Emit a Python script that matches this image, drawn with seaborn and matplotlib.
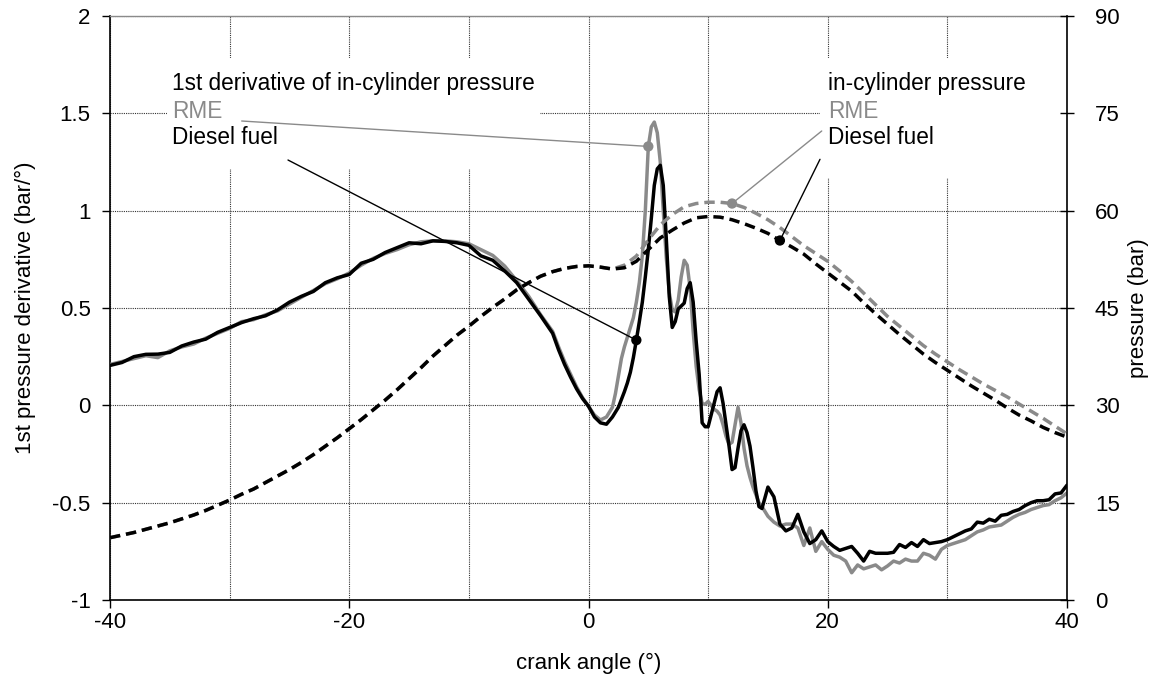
import numpy as np
import pandas as pd
import matplotlib
matplotlib.use("Agg")
import matplotlib.pyplot as plt
from matplotlib.patches import Rectangle
from matplotlib.ticker import FixedLocator
import seaborn as sns

# ---------------------------------------------------------------- data
# crank angle grid for the pressure-derivative traces (finer around combustion)
crank_deriv = np.concatenate([
    np.arange(-40.0, -2.9, 1.0),
    np.arange(-2.5, 2.01, 0.5),
    np.arange(2.25, 14.26, 0.25),
    np.arange(14.5, 40.01, 0.5),
])

# 1st derivative of in-cylinder pressure, bar/deg
dp_diesel = [
    0.205, 0.22, 0.25, 0.262, 0.263, 0.272, 0.305, 0.325, 0.34, 0.375,
    0.40, 0.425, 0.445, 0.46, 0.49, 0.53, 0.56, 0.585, 0.63, 0.655,
    0.672, 0.73, 0.75, 0.785, 0.81, 0.835, 0.83, 0.845, 0.842, 0.835,
    0.822, 0.768, 0.745, 0.69, 0.63, 0.545, 0.46, 0.37,
    0.285, 0.21, 0.145, 0.085, 0.035, -0.005, -0.06, -0.09, -0.097, -0.06,
    -0.035, -0.01, 0.03, 0.07, 0.115, 0.17, 0.245, 0.335, 0.43, 0.53,
    0.66, 0.80, 0.96, 1.13, 1.215, 1.233, 1.13, 0.86, 0.56, 0.40,
    0.43, 0.495, 0.51, 0.525, 0.60, 0.63, 0.53, 0.33, 0.16, -0.09,
    -0.11, -0.11, -0.05, 0.01, 0.07, 0.09, 0.01, -0.10, -0.21, -0.33,
    -0.32, -0.22, -0.13, -0.10, -0.14, -0.21, -0.32, -0.44, -0.52,
    -0.53, -0.42, -0.47, -0.61, -0.645, -0.63, -0.56, -0.65, -0.71, -0.69,
    -0.645, -0.70, -0.725, -0.745, -0.735, -0.725, -0.76, -0.80, -0.75, -0.76,
    -0.76, -0.76, -0.755, -0.715, -0.73, -0.705, -0.725, -0.69, -0.71, -0.705,
    -0.70, -0.69, -0.675, -0.66, -0.645, -0.635, -0.60, -0.605, -0.585, -0.595,
    -0.565, -0.56, -0.545, -0.535, -0.515, -0.50, -0.49, -0.49, -0.485, -0.455,
    -0.45, -0.41,
]
dp_rme = [
    0.21, 0.225, 0.24, 0.255, 0.245, 0.28, 0.30, 0.315, 0.345, 0.37,
    0.395, 0.43, 0.44, 0.465, 0.485, 0.52, 0.555, 0.59, 0.625, 0.65,
    0.68, 0.72, 0.755, 0.78, 0.80, 0.825, 0.84, 0.845, 0.845, 0.84,
    0.83, 0.80, 0.77, 0.715, 0.64, 0.56, 0.465, 0.38,
    0.30, 0.225, 0.16, 0.095, 0.04, -0.005, -0.05, -0.075, -0.06, -0.01,
    0.06, 0.15, 0.24, 0.30, 0.35, 0.40, 0.45, 0.53, 0.63, 0.77,
    1.0, 1.33, 1.43, 1.455, 1.40, 1.25, 1.00, 0.76, 0.58, 0.49,
    0.48, 0.54, 0.66, 0.745, 0.72, 0.60, 0.38, 0.20, 0.08, 0.01,
    0.005, 0.02, 0.00, -0.02, -0.03, -0.05, -0.10, -0.16, -0.20, -0.19,
    -0.10, -0.01, -0.09, -0.22, -0.31, -0.37, -0.42, -0.46, -0.50,
    -0.52, -0.57, -0.60, -0.62, -0.61, -0.61, -0.63, -0.72, -0.63, -0.75,
    -0.70, -0.74, -0.77, -0.78, -0.80, -0.86, -0.82, -0.84, -0.83, -0.82,
    -0.845, -0.825, -0.80, -0.81, -0.79, -0.80, -0.80, -0.76, -0.77, -0.79,
    -0.74, -0.72, -0.71, -0.70, -0.69, -0.67, -0.65, -0.64, -0.625, -0.62,
    -0.615, -0.595, -0.575, -0.56, -0.55, -0.535, -0.525, -0.515, -0.51, -0.49,
    -0.475, -0.45,
]

# in-cylinder pressure, bar
crank_p = np.arange(-40, 41, 1)
p_diesel = [
    9.6, 10.0, 10.4, 10.9, 11.4, 11.9, 12.5, 13.1, 13.8, 14.6,
    15.4, 16.3, 17.1, 18.1, 19.1, 20.1, 21.2, 22.4, 23.7, 25.0,
    26.4, 27.8, 29.3, 30.8, 32.4, 34.1, 35.8, 37.6, 39.2, 40.8,
    42.2, 43.7, 45.1, 46.4, 47.8, 48.9, 49.9, 50.6, 51.1, 51.4,
    51.5, 51.3, 51.0, 51.2, 52.2, 54.0, 55.8, 57.0, 58.1, 58.9,
    59.1, 59.0, 58.6, 58.0, 57.3, 56.5, 55.4, 54.4, 53.3, 51.8,
    50.4, 49.0, 47.6, 45.8, 44.1, 42.5, 40.9, 39.4, 37.9, 36.6,
    35.4, 34.2, 33.0, 31.9, 30.8, 29.6, 28.5, 27.6, 26.6, 25.8,
    25.1,
]
p_rme = [
    9.6, 10.0, 10.4, 10.9, 11.4, 11.9, 12.5, 13.1, 13.8, 14.6,
    15.4, 16.3, 17.1, 18.1, 19.1, 20.1, 21.2, 22.4, 23.7, 25.0,
    26.4, 27.8, 29.3, 30.8, 32.4, 34.1, 35.8, 37.6, 39.2, 40.8,
    42.2, 43.7, 45.1, 46.4, 47.8, 48.9, 49.9, 50.6, 51.1, 51.4,
    51.5, 51.3, 51.0, 51.6, 53.0, 55.5, 57.8, 59.4, 60.6, 61.1,
    61.3, 61.3, 61.1, 60.5, 59.6, 58.6, 57.4, 56.0, 54.6, 53.4,
    52.2, 50.7, 49.1, 47.3, 45.5, 43.7, 42.2, 40.7, 39.2, 37.9,
    36.7, 35.5, 34.4, 33.3, 32.3, 31.3, 30.2, 29.1, 28.0, 26.8,
    25.6,
]

# crank angles where the callout leaders meet each curve
mark_dp_rme, mark_dp_diesel = 5.0, 4.0
mark_p_rme, mark_p_diesel = 12, 16

x_ticks = [-40, -20, 0, 20, 40]
x_grid_minor = [-30, -10, 10, 30]
y_ticks = [-1, -0.5, 0, 0.5, 1, 1.5, 2]
y_labels = ["-1", "-0.5", "0", "0.5", "1", "1.5", "2"]
p_ticks = [0, 15, 30, 45, 60, 75, 90]

# ---------------------------------------------------------------- style
GREY = "#8a8a8a"
BLACK = "#000000"
FS = 16
FS_NOTE = 16.3
LW = 2.5

sns.set_theme(style="white")
plt.rcParams["font.family"] = ["Liberation Sans", "DejaVu Sans"]
plt.rcParams["axes.unicode_minus"] = False

fig = plt.figure(figsize=(11.49, 6.86), dpi=100)
ax = fig.add_axes([110 / 1149, 86 / 686, 957 / 1149, 584 / 686])
ax2 = ax.twinx()

deriv = pd.DataFrame({"crank": crank_deriv, "RME": dp_rme, "Diesel": dp_diesel})
press = pd.DataFrame({"crank": crank_p, "RME": p_rme, "Diesel": p_diesel})

# derivative traces (left axis)
sns.lineplot(data=deriv, x="crank", y="RME", ax=ax, color=GREY, lw=LW,
             estimator=None, sort=False, legend=False, zorder=3)
sns.lineplot(data=deriv, x="crank", y="Diesel", ax=ax, color=BLACK, lw=LW,
             estimator=None, sort=False, legend=False, zorder=4)

# pressure traces (right axis)
dash = (3.0, 1.7)
sns.lineplot(data=press, x="crank", y="RME", ax=ax2, color=GREY, lw=LW,
             estimator=None, sort=False, legend=False, dashes=False, zorder=3)
sns.lineplot(data=press, x="crank", y="Diesel", ax=ax2, color=BLACK, lw=LW,
             estimator=None, sort=False, legend=False, dashes=False, zorder=4)
for ln in ax2.get_lines():
    ln.set_dashes(dash)

# axes limits, ticks, grid
ax.set_xlim(-40, 40)
ax.set_ylim(-1, 2)
ax2.set_ylim(0, 90)
ax.set_xticks(x_ticks)
ax.set_xticklabels([str(v) for v in x_ticks])
ax.xaxis.set_minor_locator(FixedLocator(x_grid_minor))
ax.set_yticks(y_ticks)
ax.set_yticklabels(y_labels)
ax2.set_yticks(p_ticks)
ax2.set_yticklabels([str(v) for v in p_ticks])

grid_kw = dict(linestyle=(0, (1, 1)), color="#333333", lw=0.8)
ax.grid(True, which="major", axis="both", **grid_kw)
ax.grid(True, which="minor", axis="x", **grid_kw)
ax.set_axisbelow(True)

ax.tick_params(which="minor", length=0)
ax.tick_params(axis="x", which="major", direction="out", length=6, width=1,
               color=BLACK, labelsize=FS, pad=3, labelcolor=BLACK, bottom=True)
ax.tick_params(axis="y", which="major", direction="out", length=6, width=1,
               color=BLACK, labelsize=FS, pad=8, labelcolor=BLACK, left=True)
ax2.tick_params(axis="y", direction="inout", length=10, width=1, color=BLACK,
                labelsize=FS, pad=15, labelcolor=BLACK, right=True)

for side in ("left", "bottom"):
    ax.spines[side].set_color(BLACK)
    ax.spines[side].set_linewidth(1.2)
ax.spines["top"].set_color(GREY)
ax.spines["top"].set_linewidth(1.0)
ax.spines["right"].set_visible(False)
for side in ("left", "top", "bottom"):
    ax2.spines[side].set_visible(False)
ax2.spines["right"].set_color(BLACK)
ax2.spines["right"].set_linewidth(1.2)

ax.set_xlabel("crank angle (°)", fontsize=FS, color=BLACK, labelpad=14)
ax.set_ylabel("1st pressure derivative (bar/°)", fontsize=FS, color=BLACK, labelpad=12)
ax2.set_ylabel("pressure (bar)", fontsize=FS, color=BLACK, labelpad=6)

# ---------------------------------------------------------------- callouts
# white panels behind the two text blocks
ax.add_patch(Rectangle((0.0596, 0.7380), 0.3898, 0.1900, transform=ax.transAxes,
                       facecolor="white", edgecolor="none", zorder=2))
ax.add_patch(Rectangle((0.7419, 0.7226), 0.2581, 0.2054, transform=ax.transAxes,
                       facecolor="white", edgecolor="none", zorder=2))

rows_y = [0.8836, 0.8373, 0.7911]
left_x, right_x = 0.0648, 0.7503
for x0, title in ((left_x, "1st derivative of in-cylinder pressure"),
                  (right_x, "in-cylinder pressure")):
    ax.text(x0, rows_y[0], title, transform=ax.transAxes, fontsize=FS_NOTE,
            color=BLACK, va="center", ha="left", zorder=6)
    ax.text(x0, rows_y[1], "RME", transform=ax.transAxes, fontsize=FS_NOTE,
            color=GREY, va="center", ha="left", zorder=6)
    ax.text(x0, rows_y[2], "Diesel fuel", transform=ax.transAxes, fontsize=FS_NOTE,
            color=BLACK, va="center", ha="left", zorder=6)


def value_at(xs, ys, x0):
    idx = int(np.argmin(np.abs(np.asarray(xs, dtype=float) - x0)))
    return float(xs[idx]), float(ys[idx])


def callout(axis, xs, ys, x0, start, color):
    px, py = value_at(xs, ys, x0)
    axis.annotate("", xy=(px, py), xycoords="data", xytext=start,
                  textcoords=ax.transAxes,
                  arrowprops=dict(arrowstyle="-", color=color, lw=1.0,
                                  shrinkA=0, shrinkB=0), zorder=7)
    sns.scatterplot(x=[px], y=[py], ax=axis, color=color, s=55,
                    edgecolor="none", zorder=8, legend=False)


callout(ax, crank_deriv, dp_rme, mark_dp_rme, (0.1376, 0.8202), GREY)
callout(ax, crank_deriv, dp_diesel, mark_dp_diesel, (0.1860, 0.7534), BLACK)
callout(ax2, crank_p, p_rme, mark_p_rme, (0.7437, 0.8031), GREY)
callout(ax2, crank_p, p_diesel, mark_p_diesel, (0.7419, 0.7546), BLACK)

ax.set_xlim(-40, 40)
ax.set_ylim(-1, 2)
ax2.set_ylim(0, 90)

fig.savefig("out.png", dpi=100, facecolor="white")
